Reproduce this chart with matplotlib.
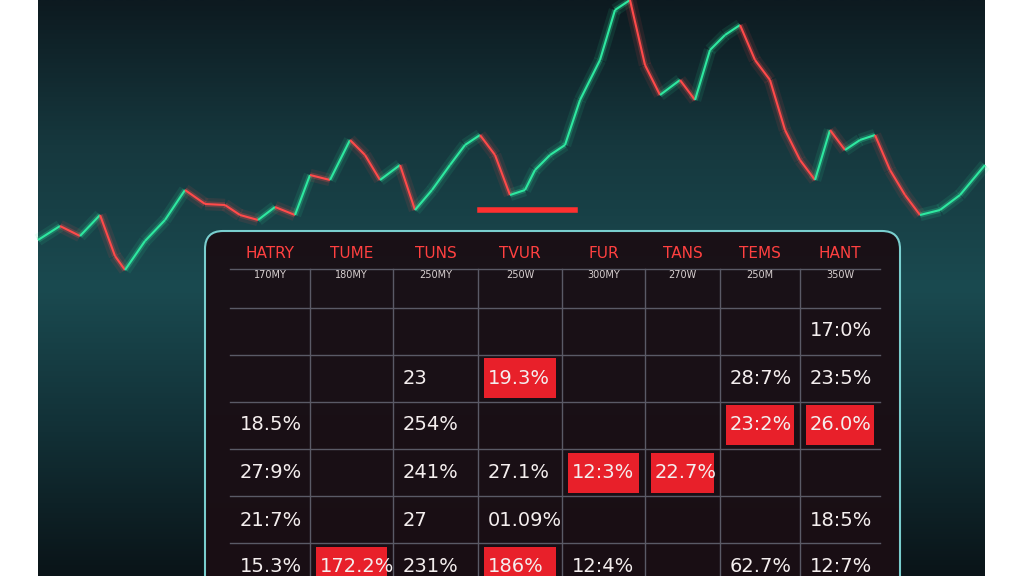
import matplotlib
matplotlib.use("Agg")
import matplotlib.pyplot as plt
import numpy as np
from matplotlib.patches import FancyBboxPatch, Rectangle
from matplotlib.collections import LineCollection
from matplotlib.colors import LinearSegmentedColormap

# price line (x pixel, y level: higher = higher price)
px = [38, 60, 80, 100, 115, 125, 145, 165, 185, 205, 225, 240, 258, 275, 295, 310, 330, 350, 365, 380, 400, 415, 432, 450, 465, 480, 495, 510, 525, 535, 550, 565, 580, 600, 615, 630, 645, 660, 680, 695, 710, 725, 740, 755, 770, 785, 800, 815, 830, 845, 860, 875, 890, 905, 920, 940, 960, 985]
py = [336, 350, 340, 361, 320, 306, 335, 356, 386, 372, 371, 361, 356, 369, 361, 401, 396, 436, 421, 396, 411, 366, 386, 411, 431, 441, 421, 381, 386, 406, 421, 431, 476, 516, 566, 576, 511, 481, 496, 476, 526, 541, 551, 516, 496, 446, 416, 396, 446, 426, 436, 441, 406, 381, 361, 366, 381, 411]

headers = ["HATRY", "TUME", "TUNS", "TVUR", "FUR", "TANS", "TEMS", "HANT"]
subheaders = ["170MY", "180MY", "250MY", "250W", "300MY", "270W", "250M", "350W"]
rows = [
    ["", "", "", "", "", "", "", "17:0%"],
    ["", "", "23", "19.3%", "", "", "28:7%", "23:5%"],
    ["18.5%", "", "254%", "", "", "", "23:2%", "26.0%"],
    ["27:9%", "", "241%", "27.1%", "12:3%", "22.7%", "", ""],
    ["21:7%", "", "27", "01.09%", "", "", "", "18:5%"],
    ["15.3%", "172.2%", "231%", "186%", "12:4%", "", "62.7%", "12:7%"],
]
highlight = [
    [0, 0, 0, 0, 0, 0, 0, 0],
    [0, 0, 0, 1, 0, 0, 0, 0],
    [0, 0, 0, 0, 0, 0, 1, 1],
    [0, 0, 0, 0, 1, 1, 0, 0],
    [0, 0, 0, 0, 0, 0, 0, 0],
    [0, 1, 0, 1, 0, 0, 0, 0],
]

fig = plt.figure(figsize=(10.24, 5.76), dpi=100, facecolor="white")
ax = fig.add_axes([0, 0, 1, 1])
ax.set_xlim(0, 1024)
ax.set_ylim(0, 576)
ax.axis("off")

grad = np.linspace(0, 1, 256).reshape(-1, 1)
cm = LinearSegmentedColormap.from_list("bg", ["#0d1a20", "#16383e", "#1a4a50", "#123036", "#0a1418"][::-1])
ax.imshow(grad, extent=[38, 985, 0, 576], cmap=cm, aspect="auto", origin="lower", zorder=0)

pts = np.array([px, py]).T
segs = np.stack([pts[:-1], pts[1:]], axis=1)
cols = ["#2ee8a0" if py[i+1] >= py[i] else "#ff4a4a" for i in range(len(py)-1)]
for lw, a in [(9, 0.10), (4, 0.25)]:
    ax.add_collection(LineCollection(segs, colors=cols, linewidths=lw, alpha=a, zorder=2))
ax.add_collection(LineCollection(segs, colors=cols, linewidths=1.5, zorder=3))
ax.plot([480, 575], [366, 366], color="#ff3030", lw=4, zorder=3)

ax.add_patch(FancyBboxPatch((205, -20), 695, 365, boxstyle="round,pad=0,rounding_size=18",
                            fc="#1a0e14", ec="#7fd8d8", lw=1.5, alpha=0.95, zorder=4))
colx = [230, 310, 393, 478, 562, 645, 720, 800, 880]
for x in colx[1:-1]:
    ax.plot([x, x], [0, 307], color="#5a5a66", lw=1, zorder=5)
for y in [307, 268, 221, 174, 127, 80, 33]:
    ax.plot([230, 880], [y, y], color="#5a5a66", lw=1, zorder=5)
centers = [(colx[i] + colx[i+1]) / 2 for i in range(8)]
for i, (h, s) in enumerate(zip(headers, subheaders)):
    ax.text(centers[i], 323, h, color="#ff4040", fontsize=11, ha="center", va="center", zorder=6)
    ax.text(centers[i], 301, s, color="#d8d0d0", fontsize=7, ha="center", va="center", zorder=6)
rowy = [245, 198, 151, 103, 56, 9]
for r, row in enumerate(rows):
    for c, v in enumerate(row):
        if highlight[r][c]:
            ax.add_patch(Rectangle((colx[c] + 6, rowy[r] - 20), colx[c+1] - colx[c] - 12, 40,
                                   fc="#e8202a", ec="none", zorder=5))
        if v:
            ax.text(colx[c] + 10, rowy[r], v, color="#f4eeee", fontsize=14, ha="left", va="center",
                    family="Liberation Sans Narrow", zorder=6)

fig.savefig("out.png", dpi=100, facecolor="white")
